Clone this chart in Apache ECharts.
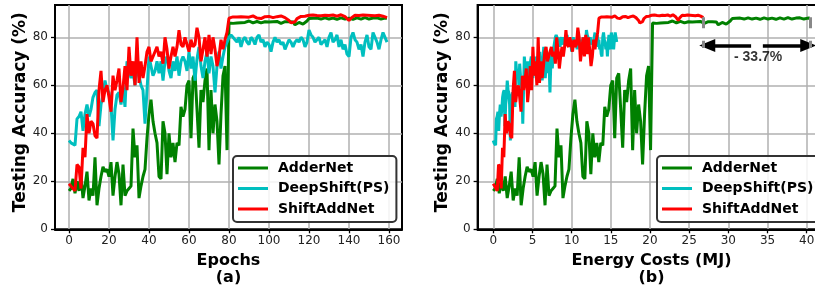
<!DOCTYPE html>
<html><head><meta charset="utf-8">
<script src="https://cdn.jsdelivr.net/npm/echarts@6/dist/echarts.min.js"></script>
<style>html,body{margin:0;padding:0;background:#fff}#c{width:815px;height:292px}</style>
</head><body><div id="c"></div>
<script>
const seriesNames = ['AdderNet', 'DeepShift(PS)', 'ShiftAddNet'];
const adderNet = [
 16,17,21,15,20,16,22,13,18,24,
 12,17,14,30,10,17,22,26,24,25,
 22,28,14,22,28,23,10,27,14,16,
 17,18,42,30,35,13,18,22,25,38,
 48,54,45,40,36,22,21,45,40,23,
 40,30,36,28,36,35,51,47,50,60,
 62,38,63,65,50,34,58,53,62,67,
 33,58,40,52,45,27,48,64,68,33,
 86,86,85.8,86.2,86,86.4,86.1,86.5,86.2,86.6,
 86.8,86.3,86,86.4,86.6,86.2,86,86.3,86.5,86.7,
 86.4,86.2,86.5,86.8,86.6,86.3,85.8,86.2,86.5,86.3,
 86.5,86.8,86.4,85.2,84.8,86.2,86.6,85.5,85,86.8,
 87.8,87.6,87.9,87.7,88,87.8,87.6,87.9,88.1,87.8,
 87.6,87.9,88,87.7,87.5,87.8,88.1,87.9,87.6,87.8,
 88,87.7,87.5,87.9,88.1,87.8,87.6,87.9,88.2,87.8,
 87.6,87.9,88,87.7,88.1,87.9,87.6,87.8,88,87.9
];
const deepShift = [
 37,36,36,35,46,47,49,41,48,52,
 47,50,55,57,58,43,52,56,62,58,
 57,52,37,50,56,57,52,59,51,70,
 66,63,66,60,69,64,60,58,44,58,
 72,68,64,66,70,65,70,62,70,72,
 66,63,70,66,72,64,70,72,70,66,
 74,67,72,62,71,76,68,63,70,74,
 65,72,68,57,68,74,67,72,76,76,
 80,81,80,79,78,80,76,79,80,78,
 77,80,79,77,80,81,78,79,76,78,
 77,74,78,80,78,79,77,78,75,77,
 79,78,76,78,79,78,80,79,76,78,
 83,81,80,78,79,80,77,78,79,76,
 80,82,78,79,81,76,79,75,77,73,
 72,80,82,79,78,75,77,72,78,81,
 76,75,82,80,78,75,79,82,80,78
];
const shiftAddNet = [
 19,18,17,16,27,26,17,34,30,48,
 40,45,44,39,38,58,66,53,58,60,
 55,49,64,58,62,67,53,59,68,58,
 76,64,70,60,80,61,70,63,68,74,
 76,70,70,74,76,72,74,69,80,75,
 67,72,76,72,76,83,77,76,80,77,
 74,79,76,77,84,80,70,75,80,72,
 81,73,80,75,68,72,79,75,79,82,
 88,88,88.5,88,88.5,88.3,88.6,88.2,88.5,88.8,
 88.4,88.6,88.9,88.3,88,87.5,87.8,88.2,88.6,88.4,
 88.7,88.5,88.2,88.8,88.6,88.4,88.9,88.5,88.2,87.8,
 87,86,85.5,86.5,87.8,88.4,88.7,88.5,88.8,89,
 89.2,89,89.3,88.8,89.1,89.4,89,88.7,89.2,89.5,
 89.1,88.9,89.3,89,88.8,89.2,89.4,89,88.6,88.2,
 87,88,88.8,89.2,89.5,89.1,88.8,89.3,89.6,89.2,
 88.9,89.1,89.4,89,88.7,89.2,89.4,88.8,89,88.2
];
const epochs = adderNet.map((_, i) => i);
// energy (MJ) spent per training epoch
const energyPerEpochAdder = 0.2541;
const energyPerEpochDeepShift = 0.0991;
const energyPerEpochShiftAdd = 0.1686;
const epochTicks = [0, 20, 40, 60, 80, 100, 120, 140, 160];
const energyTicks = [0, 5, 10, 15, 20, 25, 30, 35, 40];
const accTicks = [0, 20, 40, 60, 80];
const savingText = '- 33.7%';

const colors = { 'AdderNet': '#008000', 'DeepShift(PS)': '#00BFBF', 'ShiftAddNet': '#FF0000' };
const FONT = 'DejaVu Sans';

const adderEnd = epochs[epochs.length - 1] * energyPerEpochAdder;
const shiftEnd = epochs[epochs.length - 1] * energyPerEpochShiftAdd;

function mkX(idx, min, max, split, ticks, name, sub) {
  return {
    type: 'value', gridIndex: idx, min: min, max: max, splitNumber: split,
    axisLine: { show: true, onZero: false, lineStyle: { color: '#000', width: 2 } },
    axisTick: { show: true, length: 4, lineStyle: { color: '#000', width: 1.3 }, customValues: ticks },
    axisLabel: { customValues: ticks, color: '#222', fontFamily: FONT, fontSize: 12, margin: 6 },
    splitLine: { show: true, lineStyle: { color: '#b0b0b0', width: 1.5 } },
    name: name + '\n' + sub, nameLocation: 'middle', nameGap: 22,
    nameTextStyle: { fontFamily: FONT, fontWeight: 'bold', fontSize: 16, color: '#000', lineHeight: 17 }
  };
}
function mkY(idx) {
  return {
    type: 'value', gridIndex: idx, min: 0, max: 93.46, interval: 20,
    axisLine: { show: true, onZero: false, lineStyle: { color: '#000', width: 2 } },
    axisTick: { show: true, length: 4, lineStyle: { color: '#000', width: 1.3 }, customValues: accTicks },
    axisLabel: { customValues: accTicks, color: '#222', fontFamily: FONT, fontSize: 12, margin: 7 },
    splitLine: { show: true, lineStyle: { color: '#b0b0b0', width: 1.5 } },
    name: 'Testing Accuracy (%)', nameLocation: 'middle', nameGap: 26,
    nameTextStyle: { fontFamily: FONT, fontWeight: 'bold', fontSize: 17, color: '#000', padding: [0, 0, 0, 10] }
  };
}
function mkLegend(left) {
  return {
    data: seriesNames, orient: 'vertical', left: left, top: 156,
    icon: 'path://M0,0H30V3H0Z', itemWidth: 30, itemHeight: 14, itemGap: 6.5,
    padding: [5, 7, 6, 5], backgroundColor: 'rgba(255,255,255,0.85)',
    borderColor: '#333', borderWidth: 2, borderRadius: 4, selectedMode: false,
    textStyle: { fontFamily: FONT, fontWeight: 'bold', fontSize: 14, color: '#000', padding: [0, 0, 0, 5] }
  };
}

const valuesByName = { 'AdderNet': adderNet, 'DeepShift(PS)': deepShift, 'ShiftAddNet': shiftAddNet };
const perEpoch = { 'AdderNet': energyPerEpochAdder, 'DeepShift(PS)': energyPerEpochDeepShift, 'ShiftAddNet': energyPerEpochShiftAdd };

const series = [];
seriesNames.forEach(n => {
  series.push({
    name: n, type: 'line', xAxisIndex: 0, yAxisIndex: 0, symbol: 'none', silent: true,
    lineStyle: { color: colors[n], width: 3 }, itemStyle: { color: colors[n] },
    data: epochs.map((e, i) => [e, valuesByName[n][i]])
  });
});
seriesNames.forEach(n => {
  series.push({
    name: n, type: 'line', xAxisIndex: 1, yAxisIndex: 1, symbol: 'none', silent: true,
    lineStyle: { color: colors[n], width: 3 }, itemStyle: { color: colors[n] },
    data: epochs.map((e, i) => [e * perEpoch[n], valuesByName[n][i]])
  });
});
// annotation: energy saving
const arrowY = 76.6;
const mid = (shiftEnd + adderEnd) / 2;
series.push({
  name: 'annot', type: 'scatter', xAxisIndex: 1, yAxisIndex: 1, symbolSize: 0, silent: true,
  data: [[mid + 0.2, 71.6]],
  label: { show: true, position: 'inside', formatter: savingText, fontFamily: 'Liberation Sans', fontWeight: 'bold', fontSize: 14, color: '#000' },
  markLine: {
    silent: true, animation: false, label: { show: false },
    symbol: ['none', 'triangle'], symbolSize: [13, 16],
    data: [
      [{ coord: [mid - 0.7, arrowY], lineStyle: { color: '#000', width: 3.5, type: 'solid' } }, { coord: [shiftEnd + 0.5, arrowY] }],
      [{ coord: [mid + 0.8, arrowY], lineStyle: { color: '#000', width: 3.5, type: 'solid' } }, { coord: [adderEnd - 0.2, arrowY] }],
      [{ coord: [shiftEnd, 88.4], symbol: 'none', lineStyle: { color: '#888', width: 3, type: [11, 12.7] } }, { coord: [shiftEnd, 75.5], symbol: 'none' }],
      [{ coord: [adderEnd, 88.4], symbol: 'none', lineStyle: { color: '#888', width: 3, type: [11, 12.7] } }, { coord: [adderEnd, 75.5], symbol: 'none' }]
    ]
  }
});

const chart = echarts.init(document.getElementById('c'));
chart.setOption({
  animation: false,
  grid: [
    { left: 55, right: 413, top: 5, bottom: 62.7, show: true, borderColor: '#000', borderWidth: 2, backgroundColor: '#fff', outerBoundsMode: 'none', containLabel: false },
    { left: 477.6, right: -10.5, top: 5, bottom: 62.7, show: true, borderColor: '#000', borderWidth: 2, backgroundColor: '#fff', outerBoundsMode: 'none', containLabel: false }
  ],
  xAxis: [
    mkX(0, -7, 166.5, 8, epochTicks, 'Epochs', '(a)'),
    mkX(1, -2, 42.4, 9, energyTicks, 'Energy Costs (MJ)', '(b)')
  ],
  yAxis: [mkY(0), mkY(1)],
  legend: [mkLegend(233), mkLegend(657)],
  series: series
});
</script></body></html>
